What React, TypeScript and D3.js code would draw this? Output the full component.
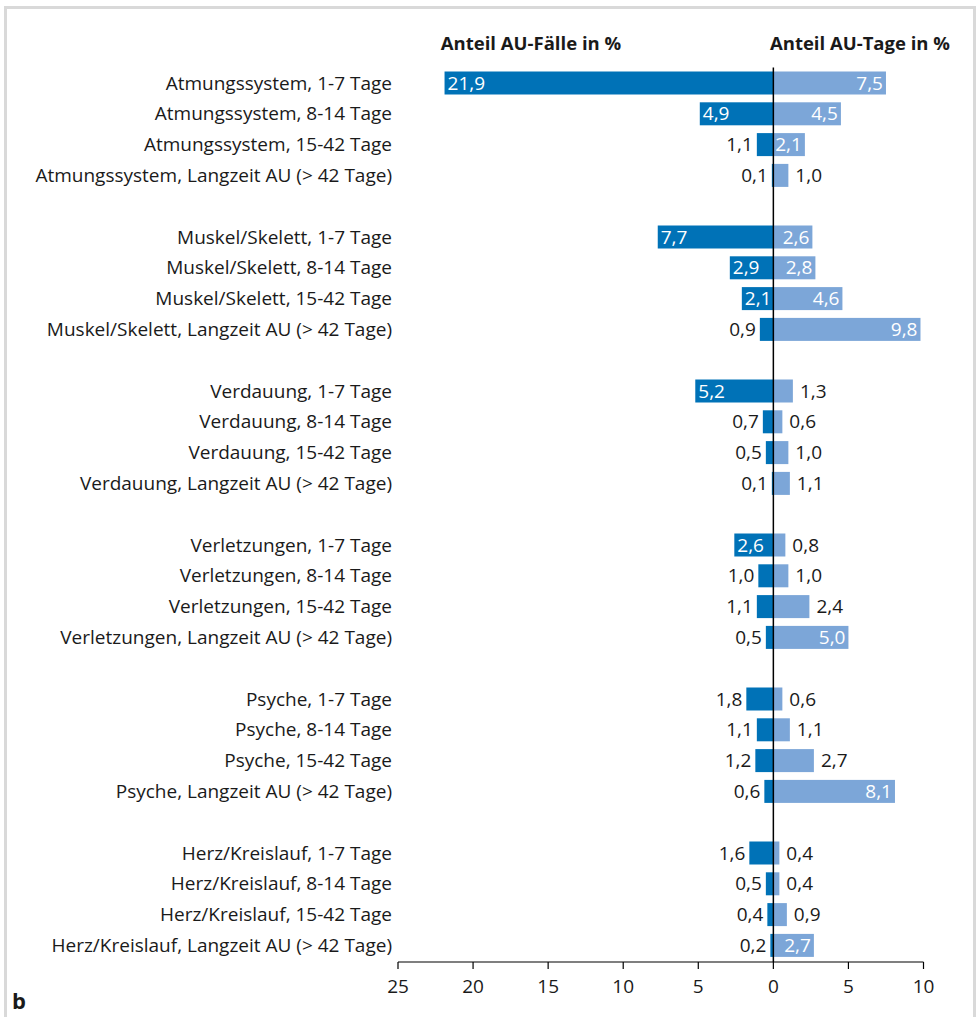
import React from "react";
import * as d3 from "d3";

const groups = ["Atmungssystem", "Muskel/Skelett", "Verdauung", "Verletzungen", "Psyche", "Herz/Kreislauf"];
const durations = ["1-7 Tage", "8-14 Tage", "15-42 Tage", "Langzeit AU (> 42 Tage)"];
const faelle = [21.9, 4.9, 1.1, 0.1, 7.7, 2.9, 2.1, 0.9, 5.2, 0.7, 0.5, 0.1, 2.6, 1.0, 1.1, 0.5, 1.8, 1.1, 1.2, 0.6, 1.6, 0.5, 0.4, 0.2];
const tage = [7.5, 4.5, 2.1, 1.0, 2.6, 2.8, 4.6, 9.8, 1.3, 0.6, 1.0, 1.1, 0.8, 1.0, 2.4, 5.0, 0.6, 1.1, 2.7, 8.1, 0.4, 0.4, 0.9, 2.7];
const faelleInside = [true, true, false, false, true, true, true, false, true, false, false, false, true, false, false, false, false, false, false, false, false, false, false, false];
const tageInside = [true, true, true, false, true, true, true, true, false, false, false, false, false, false, false, true, false, false, false, true, false, false, false, true];
const ticks = [-25, -20, -15, -10, -5, 0, 5, 10];
const headerLeft = "Anteil AU-Fälle in %";
const headerRight = "Anteil AU-Tage in %";

const DARK = "#0072b7";
const LIGHT = "#7ca6d8";
const FONT = "'Open Sans', sans-serif";

const fmt = (v: number) => v.toFixed(1).replace(".", ",");

export default function App() {
  const W = 978, H = 1017;
  const x = d3.scaleLinear().domain([-25, 10]).range([398, 923.5]);
  const slots = d3.range(groups.length * 5 - 1);
  const y = d3.scaleBand<number>().domain(slots).range([67.6, 960.8]).paddingInner(0.25).paddingOuter(0.125);
  const rows = groups.flatMap((g, gi) =>
    durations.map((d, di) => ({ label: `${g}, ${d}`, slot: gi * 5 + di, idx: gi * 4 + di }))
  );
  const x0 = x(0);
  const bh = 23;
  const fs = 19;
  const axisY = 962;
  return (
    <svg width={W} height={H} style={{ position: "absolute", left: 0, top: 0, background: "#fff" }} fontFamily={FONT}>
      <rect x={5.5} y={7.5} width={969} height={1100} fill="none" stroke="#d9d9d9" strokeWidth={3} />
      <text x={531} y={50} textAnchor="middle" fontWeight="bold" fontSize={18.5} fill="#1a1a1a">{headerLeft}</text>
      <text x={860} y={50} textAnchor="middle" fontWeight="bold" fontSize={18.5} fill="#1a1a1a">{headerRight}</text>
      {rows.map((r) => {
        const cy = (y(r.slot) as number) + y.bandwidth() / 2;
        const fv = faelle[r.idx];
        const tv = tage[r.idx];
        const fx = x(-fv);
        const tx = x(tv);
        return (
          <g key={r.idx}>
            <text x={392} y={cy} dy="0.35em" textAnchor="end" fontSize={fs} fill="#1a1a1a">{r.label}</text>
            <rect x={fx} y={cy - bh / 2} width={x0 - fx} height={bh} fill={DARK} />
            <rect x={x0} y={cy - bh / 2} width={tx - x0} height={bh} fill={LIGHT} />
            {faelleInside[r.idx] ? (
              <text x={fx + 3} y={cy} dy="0.35em" textAnchor="start" fontSize={fs} fill="#fff">{fmt(fv)}</text>
            ) : (
              <text x={fx - 4} y={cy} dy="0.35em" textAnchor="end" fontSize={fs} fill="#1a1a1a">{fmt(fv)}</text>
            )}
            {tageInside[r.idx] ? (
              <text x={tx - 3} y={cy} dy="0.35em" textAnchor="end" fontSize={fs} fill="#fff">{fmt(tv)}</text>
            ) : (
              <text x={tx + 7} y={cy} dy="0.35em" textAnchor="start" fontSize={fs} fill="#1a1a1a">{fmt(tv)}</text>
            )}
          </g>
        );
      })}
      <line x1={x0} x2={x0} y1={67.6} y2={axisY} stroke="#000" strokeWidth={1.5} />
      <line x1={x(-25)} x2={x(10)} y1={axisY} y2={axisY} stroke="#000" strokeWidth={1.2} />
      {ticks.map((t) => (
        <g key={t}>
          <line x1={x(t)} x2={x(t)} y1={axisY} y2={axisY + 7} stroke="#000" strokeWidth={1.2} />
          <text x={x(t)} y={986} dy="0.35em" textAnchor="middle" fontSize={19} fill="#1a1a1a">{Math.abs(t)}</text>
        </g>
      ))}
      <text x={12} y={1009} fontWeight="bold" fontSize={22} fill="#1a1a1a">b</text>
    </svg>
  );
}
